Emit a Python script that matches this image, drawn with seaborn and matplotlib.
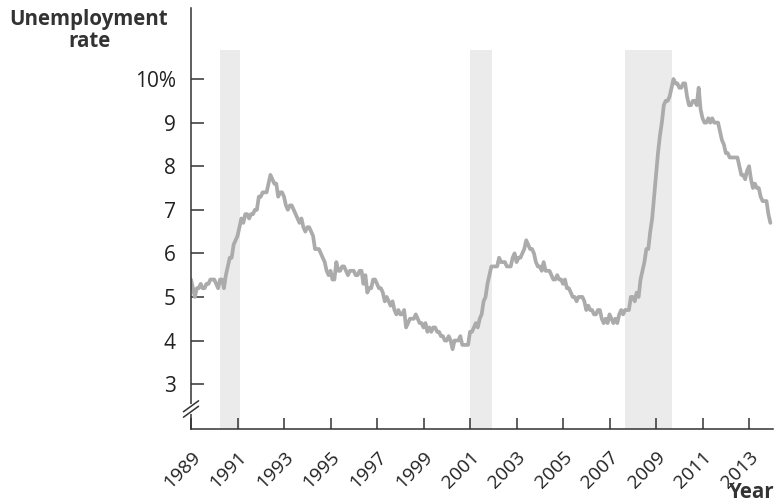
import matplotlib
matplotlib.use("Agg")
import matplotlib.pyplot as plt
import seaborn as sns
import pandas as pd

# Monthly US unemployment rate (%), Jan..Dec for each year
years = list(range(1989, 2014))
monthly_rate = [
    [5.4, 5.2, 5.0, 5.2, 5.2, 5.3, 5.2, 5.2, 5.3, 5.3, 5.4, 5.4],  # 1989
    [5.4, 5.3, 5.2, 5.4, 5.4, 5.2, 5.5, 5.7, 5.9, 5.9, 6.2, 6.3],  # 1990
    [6.4, 6.6, 6.8, 6.7, 6.9, 6.9, 6.8, 6.9, 6.9, 7.0, 7.0, 7.3],  # 1991
    [7.3, 7.4, 7.4, 7.4, 7.6, 7.8, 7.7, 7.6, 7.6, 7.3, 7.4, 7.4],  # 1992
    [7.3, 7.1, 7.0, 7.1, 7.1, 7.0, 6.9, 6.8, 6.7, 6.8, 6.6, 6.5],  # 1993
    [6.6, 6.6, 6.5, 6.4, 6.1, 6.1, 6.1, 6.0, 5.9, 5.8, 5.6, 5.5],  # 1994
    [5.6, 5.4, 5.4, 5.8, 5.6, 5.6, 5.7, 5.7, 5.6, 5.5, 5.6, 5.6],  # 1995
    [5.6, 5.5, 5.5, 5.6, 5.6, 5.3, 5.5, 5.1, 5.2, 5.2, 5.4, 5.4],  # 1996
    [5.3, 5.2, 5.2, 5.1, 4.9, 5.0, 4.9, 4.8, 4.9, 4.7, 4.6, 4.7],  # 1997
    [4.6, 4.6, 4.7, 4.3, 4.4, 4.5, 4.5, 4.5, 4.6, 4.5, 4.4, 4.4],  # 1998
    [4.3, 4.4, 4.2, 4.3, 4.2, 4.3, 4.3, 4.2, 4.2, 4.1, 4.1, 4.0],  # 1999
    [4.0, 4.1, 4.0, 3.8, 4.0, 4.0, 4.0, 4.1, 3.9, 3.9, 3.9, 3.9],  # 2000
    [4.2, 4.2, 4.3, 4.4, 4.3, 4.5, 4.6, 4.9, 5.0, 5.3, 5.5, 5.7],  # 2001
    [5.7, 5.7, 5.7, 5.9, 5.8, 5.8, 5.8, 5.7, 5.7, 5.7, 5.9, 6.0],  # 2002
    [5.8, 5.9, 5.9, 6.0, 6.1, 6.3, 6.2, 6.1, 6.1, 6.0, 5.8, 5.7],  # 2003
    [5.7, 5.6, 5.8, 5.6, 5.6, 5.6, 5.5, 5.4, 5.4, 5.5, 5.4, 5.4],  # 2004
    [5.3, 5.4, 5.2, 5.2, 5.1, 5.0, 5.0, 4.9, 5.0, 5.0, 5.0, 4.9],  # 2005
    [4.7, 4.8, 4.7, 4.7, 4.6, 4.6, 4.7, 4.7, 4.5, 4.4, 4.5, 4.4],  # 2006
    [4.6, 4.5, 4.4, 4.5, 4.4, 4.6, 4.7, 4.6, 4.7, 4.7, 4.7, 5.0],  # 2007
    [5.0, 4.9, 5.1, 5.0, 5.4, 5.6, 5.8, 6.1, 6.1, 6.5, 6.8, 7.3],  # 2008
    [7.8, 8.3, 8.7, 9.0, 9.4, 9.5, 9.5, 9.6, 9.8, 10.0, 9.9, 9.9],  # 2009
    [9.8, 9.8, 9.9, 9.9, 9.6, 9.4, 9.4, 9.5, 9.5, 9.4, 9.8, 9.3],  # 2010
    [9.1, 9.0, 9.0, 9.1, 9.0, 9.1, 9.0, 9.0, 9.0, 8.8, 8.6, 8.5],  # 2011
    [8.3, 8.3, 8.2, 8.2, 8.2, 8.2, 8.2, 8.0, 7.8, 7.8, 7.7, 7.9],  # 2012
    [8.0, 7.7, 7.5, 7.6, 7.5, 7.5, 7.3, 7.2, 7.2, 7.2, 6.9, 6.7],  # 2013
]

# Recession shading (start, end in fractional years)
recession_start = [1990.25, 2001.0, 2007.67]
recession_end = [1991.1, 2001.95, 2009.7]

ytick_values = [3, 4, 5, 6, 7, 8, 9, 10]
ytick_labels = ["3", "4", "5", "6", "7", "8", "9", "10%"]
xtick_years = list(range(1989, 2014, 2))

rows = []
for yr, vals in zip(years, monthly_rate):
    for m, v in enumerate(vals):
        rows.append({"t": yr + m / 12, "rate": v})
df = pd.DataFrame(rows)

sns.set_style("ticks")
plt.rcParams['font.family'] = ['Open Sans', 'DejaVu Sans']

axis_col = "#333333"
y_lo, y_hi = 1.97, 11.63

fig = plt.figure(figsize=(7.79, 5.04), dpi=100)
ax = fig.add_axes([191 / 779, 1 - 429 / 504, 582 / 779, 421 / 504])

for s, e in zip(recession_start, recession_end):
    ax.axvspan(s, e, ymin=0, ymax=(10.67 - y_lo) / (y_hi - y_lo),
               color="#ebebeb", lw=0, zorder=0)

sns.lineplot(data=df, x="t", y="rate", ax=ax, color="#ababab", lw=2.7, zorder=2)

ax.set_xlim(1989, 2014.03)
ax.set_ylim(y_lo, y_hi)
ax.set_xticks(xtick_years)
ax.set_xticklabels([str(y) for y in xtick_years], rotation=45, ha='right',
                   va='top', rotation_mode='anchor')
ax.set_yticks(ytick_values)
ax.set_yticklabels(ytick_labels)
ax.set_xlabel("")
ax.set_ylabel("")

ax.tick_params(axis='x', direction='in', length=8, width=1.1, color=axis_col,
               labelsize=13.8, pad=14, labelcolor="#222222")
ax.tick_params(axis='y', direction='in', length=9.5, width=1.1, color=axis_col,
               labelsize=15, pad=11, labelcolor="#222222")

for side in ['top', 'right']:
    ax.spines[side].set_visible(False)
for side in ['left', 'bottom']:
    ax.spines[side].set_linewidth(1.1)
    ax.spines[side].set_color(axis_col)

# axis break marks on the y-axis
ax.plot([0, 0], [0.040, 0.055], transform=ax.transAxes, color="white",
        lw=3, clip_on=False, zorder=5)
for yc in [0.041, 0.054]:
    ax.plot([-0.013, 0.013], [yc - 0.013, yc + 0.013], transform=ax.transAxes,
            color=axis_col, lw=1.1, clip_on=False, zorder=6)

fig.text(89 / 779, 1 - 9 / 504, "Unemployment\nrate", ha='center', va='top',
         fontsize=14.8, fontweight='bold', color="#333333", linespacing=1.05)
fig.text(775 / 779, 1 - 493 / 504, "Year", ha='right', va='center',
         fontsize=14.8, fontweight='bold', color="#333333")

fig.savefig("out.png", dpi=100)
